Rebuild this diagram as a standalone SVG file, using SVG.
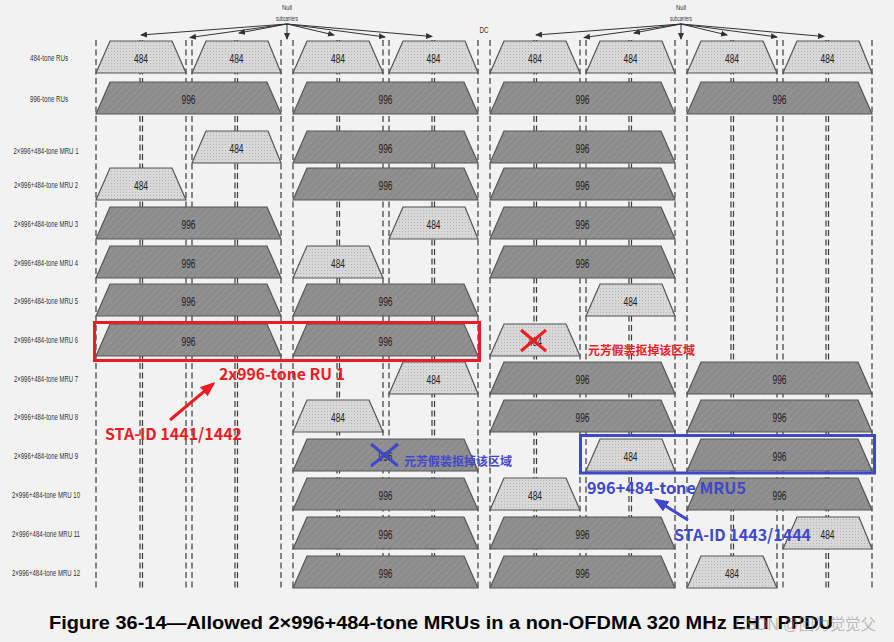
<svg xmlns="http://www.w3.org/2000/svg" width="894" height="642" viewBox="0 0 894 642">
<style>
.lbl{font-family:"Liberation Sans",Arial,sans-serif;font-size:8.5px;fill:#333;text-anchor:middle}
.num{font-family:"Liberation Sans",Arial,sans-serif;font-size:13px;fill:#222;text-anchor:middle}
.sm{font-family:"Liberation Sans",Arial,sans-serif;font-size:7px;fill:#333;text-anchor:middle}
.t484{fill:url(#dots);stroke:#555;stroke-width:1.2}
.t996{fill:url(#hatch);stroke:#555;stroke-width:1.2}
.dash{stroke:#3a3a3a;stroke-width:1.2;stroke-dasharray:6 3.5;fill:none}
.na{stroke:#333;stroke-width:1;fill:none;marker-end:url(#ah)}
.red{font-family:"Noto Sans CJK SC","Noto Sans",sans-serif;font-weight:bold;fill:#ed1c24}
.blue{font-family:"Noto Sans CJK SC","Noto Sans",sans-serif;font-weight:bold;fill:#3f48cc}
</style>
<defs>
<pattern id="dots" width="3" height="3" patternUnits="userSpaceOnUse"><rect width="3" height="3" fill="#d8d8d8"/><rect width="1" height="1" fill="#b4b4b4"/></pattern>
<pattern id="hatch" width="5" height="5" patternUnits="userSpaceOnUse" patternTransform="rotate(45)"><rect width="5" height="5" fill="#8c8c8c"/><line x1="0" y1="0" x2="0" y2="5" stroke="#9b9b9b" stroke-width="1.4"/></pattern>
<marker id="ah" markerWidth="7" markerHeight="6" refX="6" refY="3" orient="auto" markerUnits="userSpaceOnUse"><path d="M0,0 L7,3 L0,6 Z" fill="#333"/></marker>
<marker id="ahr" markerWidth="5" markerHeight="4" refX="4" refY="2" orient="auto"><path d="M0,0 L5,2 L0,4 Z" fill="#ed1c24"/></marker>
<marker id="ahb" markerWidth="5" markerHeight="4" refX="4" refY="2" orient="auto"><path d="M0,0 L5,2 L0,4 Z" fill="#3f48cc"/></marker>
</defs>
<rect width="894" height="642" fill="#f2f2f2"/>

<g id="gridlines">
<path class="dash" d="M96,40V590M140,40V590M142.5,40V590M186,40V590M192,40V590M235,40V590M237.5,40V590M281,40V590
M293,40V590M337,40V590M339.5,40V590M383,40V590M389,40V590M432,40V590M434.5,40V590M478,40V590
M490,40V590M534,40V590M536.5,40V590M580,40V590M586,40V590M629,40V590M631.5,40V590M675,40V590
M687,40V590M731,40V590M733.5,40V590M777,40V590M783,40V590M826,40V590M828.5,40V590M872,40V590"/>
</g>

<g id="labels">
<text class="lbl" x="49" y="61" textLength="38" lengthAdjust="spacingAndGlyphs">484-tone RUs</text>
<text class="lbl" x="49" y="102" textLength="38" lengthAdjust="spacingAndGlyphs">996-tone RUs</text>
<text class="lbl" x="46" y="154" textLength="65" lengthAdjust="spacingAndGlyphs">2×996+484-tone MRU 1</text>
<text class="lbl" x="46" y="188" textLength="64" lengthAdjust="spacingAndGlyphs">2×996+484-tone MRU 2</text>
<text class="lbl" x="46" y="227" textLength="64" lengthAdjust="spacingAndGlyphs">2×996+484-tone MRU 3</text>
<text class="lbl" x="46" y="266" textLength="64" lengthAdjust="spacingAndGlyphs">2×996+484-tone MRU 4</text>
<text class="lbl" x="46" y="304" textLength="64" lengthAdjust="spacingAndGlyphs">2×996+484-tone MRU 5</text>
<text class="lbl" x="46" y="343" textLength="64" lengthAdjust="spacingAndGlyphs">2×996+484-tone MRU 6</text>
<text class="lbl" x="46" y="382" textLength="64" lengthAdjust="spacingAndGlyphs">2×996+484-tone MRU 7</text>
<text class="lbl" x="46" y="420" textLength="64" lengthAdjust="spacingAndGlyphs">2×996+484-tone MRU 8</text>
<text class="lbl" x="46" y="459" textLength="64" lengthAdjust="spacingAndGlyphs">2×996+484-tone MRU 9</text>
<text class="lbl" x="46" y="498" textLength="68" lengthAdjust="spacingAndGlyphs">2×996+484-tone MRU 10</text>
<text class="lbl" x="46" y="537" textLength="68" lengthAdjust="spacingAndGlyphs">2×996+484-tone MRU 11</text>
<text class="lbl" x="46" y="576" textLength="68" lengthAdjust="spacingAndGlyphs">2×996+484-tone MRU 12</text>
</g>

<g id="row-484">
<g id="ru484-1"><polygon class="t484" points="96,73 110,41 172,41 186,73"/><text class="num" x="141" y="62.5" textLength="14" lengthAdjust="spacingAndGlyphs">484</text></g>
<g id="ru484-2"><polygon class="t484" points="192,73 206,41 268,41 281,73"/><text class="num" x="236.5" y="62.5" textLength="14" lengthAdjust="spacingAndGlyphs">484</text></g>
<g id="ru484-3"><polygon class="t484" points="293,73 307,41 369,41 383,73"/><text class="num" x="338" y="62.5" textLength="14" lengthAdjust="spacingAndGlyphs">484</text></g>
<g id="ru484-4"><polygon class="t484" points="389,73 403,41 465,41 478,73"/><text class="num" x="433.5" y="62.5" textLength="14" lengthAdjust="spacingAndGlyphs">484</text></g>
<g id="ru484-5"><polygon class="t484" points="490,73 504,41 566,41 580,73"/><text class="num" x="535" y="62.5" textLength="14" lengthAdjust="spacingAndGlyphs">484</text></g>
<g id="ru484-6"><polygon class="t484" points="586,73 600,41 662,41 675,73"/><text class="num" x="630.5" y="62.5" textLength="14" lengthAdjust="spacingAndGlyphs">484</text></g>
<g id="ru484-7"><polygon class="t484" points="687,73 701,41 763,41 777,73"/><text class="num" x="732" y="62.5" textLength="14" lengthAdjust="spacingAndGlyphs">484</text></g>
<g id="ru484-8"><polygon class="t484" points="783,73 797,41 859,41 872,73"/><text class="num" x="827.5" y="62.5" textLength="14" lengthAdjust="spacingAndGlyphs">484</text></g>
</g>

<g id="row-996">
<g id="ru996-1"><polygon class="t996" points="96,114 110,82 267,82 281,114"/><text class="num" x="188.5" y="103.5" textLength="14" lengthAdjust="spacingAndGlyphs">996</text></g>
<g id="ru996-2"><polygon class="t996" points="293,114 307,82 464,82 478,114"/><text class="num" x="385.5" y="103.5" textLength="14" lengthAdjust="spacingAndGlyphs">996</text></g>
<g id="ru996-3"><polygon class="t996" points="490,114 504,82 661,82 675,114"/><text class="num" x="582.5" y="103.5" textLength="14" lengthAdjust="spacingAndGlyphs">996</text></g>
<g id="ru996-4"><polygon class="t996" points="687,114 701,82 858,82 872,114"/><text class="num" x="779.5" y="103.5" textLength="14" lengthAdjust="spacingAndGlyphs">996</text></g>
</g>

<g id="mru1">
<g id="mru1-a"><polygon class="t484" points="192,163 206,131 268,131 281,163"/><text class="num" x="236.5" y="152.5" textLength="14" lengthAdjust="spacingAndGlyphs">484</text></g>
<g id="mru1-b"><polygon class="t996" points="293,163 307,131 464,131 478,163"/><text class="num" x="385.5" y="152.5" textLength="14" lengthAdjust="spacingAndGlyphs">996</text></g>
<g id="mru1-c"><polygon class="t996" points="490,163 504,131 661,131 675,163"/><text class="num" x="582.5" y="152.5" textLength="14" lengthAdjust="spacingAndGlyphs">996</text></g>
</g>
<g id="mru2">
<g id="mru2-a"><polygon class="t484" points="96,200 110,168 172,168 186,200"/><text class="num" x="141" y="189.5" textLength="14" lengthAdjust="spacingAndGlyphs">484</text></g>
<g id="mru2-b"><polygon class="t996" points="293,200 307,168 464,168 478,200"/><text class="num" x="385.5" y="189.5" textLength="14" lengthAdjust="spacingAndGlyphs">996</text></g>
<g id="mru2-c"><polygon class="t996" points="490,200 504,168 661,168 675,200"/><text class="num" x="582.5" y="189.5" textLength="14" lengthAdjust="spacingAndGlyphs">996</text></g>
</g>
<g id="mru3">
<g id="mru3-a"><polygon class="t996" points="96,239 110,207 267,207 281,239"/><text class="num" x="188.5" y="228.5" textLength="14" lengthAdjust="spacingAndGlyphs">996</text></g>
<g id="mru3-b"><polygon class="t484" points="389,239 403,207 465,207 478,239"/><text class="num" x="433.5" y="228.5" textLength="14" lengthAdjust="spacingAndGlyphs">484</text></g>
<g id="mru3-c"><polygon class="t996" points="490,239 504,207 661,207 675,239"/><text class="num" x="582.5" y="228.5" textLength="14" lengthAdjust="spacingAndGlyphs">996</text></g>
</g>
<g id="mru4">
<g id="mru4-a"><polygon class="t996" points="96,278 110,246 267,246 281,278"/><text class="num" x="188.5" y="267.5" textLength="14" lengthAdjust="spacingAndGlyphs">996</text></g>
<g id="mru4-b"><polygon class="t484" points="293,278 307,246 369,246 383,278"/><text class="num" x="338" y="267.5" textLength="14" lengthAdjust="spacingAndGlyphs">484</text></g>
<g id="mru4-c"><polygon class="t996" points="490,278 504,246 661,246 675,278"/><text class="num" x="582.5" y="267.5" textLength="14" lengthAdjust="spacingAndGlyphs">996</text></g>
</g>
<g id="mru5">
<g id="mru5-a"><polygon class="t996" points="96,316 110,284 267,284 281,316"/><text class="num" x="188.5" y="305.5" textLength="14" lengthAdjust="spacingAndGlyphs">996</text></g>
<g id="mru5-b"><polygon class="t996" points="293,316 307,284 464,284 478,316"/><text class="num" x="385.5" y="305.5" textLength="14" lengthAdjust="spacingAndGlyphs">996</text></g>
<g id="mru5-c"><polygon class="t484" points="586,316 600,284 662,284 675,316"/><text class="num" x="630.5" y="305.5" textLength="14" lengthAdjust="spacingAndGlyphs">484</text></g>
</g>
<g id="mru6">
<g id="mru6-a"><polygon class="t996" points="96,356 110,324 267,324 281,356"/><text class="num" x="188.5" y="345.5" textLength="14" lengthAdjust="spacingAndGlyphs">996</text></g>
<g id="mru6-b"><polygon class="t996" points="293,356 307,324 464,324 478,356"/><text class="num" x="385.5" y="345.5" textLength="14" lengthAdjust="spacingAndGlyphs">996</text></g>
<g id="mru6-c"><polygon class="t484" points="490,356 504,324 566,324 580,356"/><text class="num" x="535" y="345.5" textLength="14" lengthAdjust="spacingAndGlyphs">484</text></g>
</g>
<g id="mru7">
<g id="mru7-a"><polygon class="t484" points="389,394 403,362 465,362 478,394"/><text class="num" x="433.5" y="383.5" textLength="14" lengthAdjust="spacingAndGlyphs">484</text></g>
<g id="mru7-b"><polygon class="t996" points="490,394 504,362 661,362 675,394"/><text class="num" x="582.5" y="383.5" textLength="14" lengthAdjust="spacingAndGlyphs">996</text></g>
<g id="mru7-c"><polygon class="t996" points="687,394 701,362 858,362 872,394"/><text class="num" x="779.5" y="383.5" textLength="14" lengthAdjust="spacingAndGlyphs">996</text></g>
</g>
<g id="mru8">
<g id="mru8-a"><polygon class="t484" points="293,432 307,400 369,400 383,432"/><text class="num" x="338" y="421.5" textLength="14" lengthAdjust="spacingAndGlyphs">484</text></g>
<g id="mru8-b"><polygon class="t996" points="490,432 504,400 661,400 675,432"/><text class="num" x="582.5" y="421.5" textLength="14" lengthAdjust="spacingAndGlyphs">996</text></g>
<g id="mru8-c"><polygon class="t996" points="687,432 701,400 858,400 872,432"/><text class="num" x="779.5" y="421.5" textLength="14" lengthAdjust="spacingAndGlyphs">996</text></g>
</g>
<g id="mru9">
<g id="mru9-a"><polygon class="t996" points="293,471 307,439 464,439 478,471"/><text class="num" x="385.5" y="460.5" textLength="14" lengthAdjust="spacingAndGlyphs">996</text></g>
<g id="mru9-b"><polygon class="t484" points="586,471 600,439 662,439 675,471"/><text class="num" x="630.5" y="460.5" textLength="14" lengthAdjust="spacingAndGlyphs">484</text></g>
<g id="mru9-c"><polygon class="t996" points="687,471 701,439 858,439 872,471"/><text class="num" x="779.5" y="460.5" textLength="14" lengthAdjust="spacingAndGlyphs">996</text></g>
</g>
<g id="mru10">
<g id="mru10-a"><polygon class="t996" points="293,510 307,478 464,478 478,510"/><text class="num" x="385.5" y="499.5" textLength="14" lengthAdjust="spacingAndGlyphs">996</text></g>
<g id="mru10-b"><polygon class="t484" points="490,510 504,478 566,478 580,510"/><text class="num" x="535" y="499.5" textLength="14" lengthAdjust="spacingAndGlyphs">484</text></g>
<g id="mru10-c"><polygon class="t996" points="687,510 701,478 858,478 872,510"/><text class="num" x="779.5" y="499.5" textLength="14" lengthAdjust="spacingAndGlyphs">996</text></g>
</g>
<g id="mru11">
<g id="mru11-a"><polygon class="t996" points="293,549 307,517 464,517 478,549"/><text class="num" x="385.5" y="538.5" textLength="14" lengthAdjust="spacingAndGlyphs">996</text></g>
<g id="mru11-b"><polygon class="t996" points="490,549 504,517 661,517 675,549"/><text class="num" x="582.5" y="538.5" textLength="14" lengthAdjust="spacingAndGlyphs">996</text></g>
<g id="mru11-c"><polygon class="t484" points="783,549 797,517 859,517 872,549"/><text class="num" x="827.5" y="538.5" textLength="14" lengthAdjust="spacingAndGlyphs">484</text></g>
</g>
<g id="mru12">
<g id="mru12-a"><polygon class="t996" points="293,588 307,556 464,556 478,588"/><text class="num" x="385.5" y="577.5" textLength="14" lengthAdjust="spacingAndGlyphs">996</text></g>
<g id="mru12-b"><polygon class="t996" points="490,588 504,556 661,556 675,588"/><text class="num" x="582.5" y="577.5" textLength="14" lengthAdjust="spacingAndGlyphs">996</text></g>
<g id="mru12-c"><polygon class="t484" points="687,588 701,556 763,556 777,588"/><text class="num" x="732" y="577.5" textLength="14" lengthAdjust="spacingAndGlyphs">484</text></g>
</g>

<g id="null-label-1"><text class="sm" x="287" y="10" textLength="10" lengthAdjust="spacingAndGlyphs">Null</text><text class="sm" x="287" y="21" textLength="22" lengthAdjust="spacingAndGlyphs">subcarriers</text></g>
<g id="null-label-2"><text class="sm" x="681" y="10" textLength="10" lengthAdjust="spacingAndGlyphs">Null</text><text class="sm" x="681" y="21" textLength="22" lengthAdjust="spacingAndGlyphs">subcarriers</text></g>
<g id="dc-label"><text class="lbl" x="484" y="33" style="font-size:9px" textLength="9" lengthAdjust="spacingAndGlyphs">DC</text></g>

<g id="connectors">
<line class="na" x1="287" y1="24" x2="141" y2="35"/>
<line class="na" x1="287" y1="24" x2="190" y2="37.5"/>
<line class="na" x1="287" y1="24" x2="239" y2="33"/>
<line class="na" x1="287" y1="24" x2="287" y2="39"/>
<line class="na" x1="287" y1="24" x2="334" y2="35"/>
<line class="na" x1="287" y1="24" x2="385" y2="37"/>
<line class="na" x1="287" y1="24" x2="432" y2="36.5"/>
<line class="na" x1="681" y1="24" x2="536" y2="35"/>
<line class="na" x1="681" y1="24" x2="584" y2="37.5"/>
<line class="na" x1="681" y1="24" x2="634" y2="33"/>
<line class="na" x1="681" y1="24" x2="681" y2="39"/>
<line class="na" x1="681" y1="24" x2="727" y2="35"/>
<line class="na" x1="681" y1="24" x2="777" y2="37"/>
<line class="na" x1="681" y1="24" x2="824" y2="36.5"/>
<line x1="170" y1="420" x2="213" y2="384" stroke="#ed1c24" stroke-width="3" marker-end="url(#ahr)"/>
<line x1="688" y1="520" x2="656" y2="500" stroke="#3f48cc" stroke-width="3" marker-end="url(#ahb)"/>
</g>

<g id="annot-red">
<rect x="94.5" y="322.5" width="385" height="38" fill="none" stroke="#ed1c24" stroke-width="3"/>
<path d="M521,330 L546,351 M546,330 L521,351" stroke="#ed1c24" stroke-width="3" fill="none"/>
<text class="red" x="219" y="380" style="font-size:15.5px" textLength="126" lengthAdjust="spacingAndGlyphs">2x996-tone RU 1</text>
<text class="red" x="105" y="440" style="font-size:16px" textLength="137" lengthAdjust="spacingAndGlyphs">STA-ID 1441/1442</text>
<text class="red" x="588" y="355" style="font-size:12px" textLength="107" lengthAdjust="spacingAndGlyphs">元芳假装抠掉该区域</text>
</g>
<g id="annot-blue">
<rect x="580.5" y="435.5" width="294" height="37.5" fill="none" stroke="#3f48cc" stroke-width="3"/>
<path d="M371,444 L398,466 M398,444 L371,466" stroke="#3f48cc" stroke-width="3" fill="none"/>
<text class="blue" x="404" y="466" style="font-size:12px" textLength="108" lengthAdjust="spacingAndGlyphs">元芳假装抠掉该区域</text>
<text class="blue" x="587" y="494" style="font-size:16px" textLength="159" lengthAdjust="spacingAndGlyphs">996+484-tone MRU5</text>
<text class="blue" x="674" y="541" style="font-size:16px" textLength="137" lengthAdjust="spacingAndGlyphs">STA-ID 1443/1444</text>
</g>

<g id="caption">
<text x="49" y="629" font-family="Liberation Sans,Arial,sans-serif" font-weight="bold" font-size="18.5" fill="#000" textLength="784" lengthAdjust="spacingAndGlyphs">Figure 36-14—Allowed 2×996+484-tone MRUs in a non-OFDMA 320 MHz EHT PPDU</text>
<text x="735" y="630" font-family="Liberation Sans,'Noto Sans CJK SC',sans-serif" font-size="16" fill="#8a8a8a" fill-opacity="0.55" textLength="141" lengthAdjust="spacingAndGlyphs">CSDN @回为觉觉父</text>
</g>
</svg>
